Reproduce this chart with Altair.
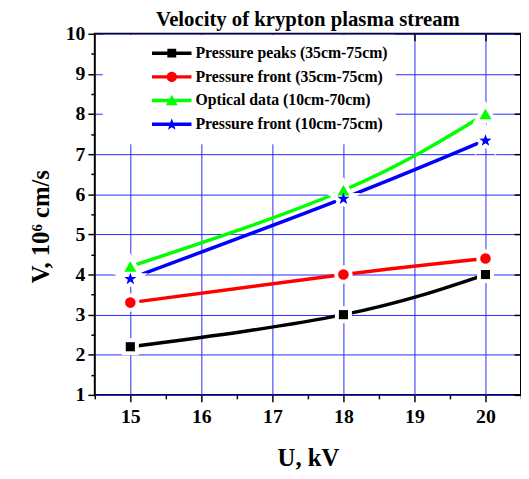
import math
import altair as alt
import pandas as pd

# ---- data ----
U_KV = [15, 18, 20]
SERIES = [
    "Pressure peaks (35cm-75cm)",
    "Pressure front (35cm-75cm)",
    "Optical data (10cm-70cm)",
    "Pressure front (10cm-75cm)",
]
PRESSURE_PEAKS = [2.2, 3.0, 4.0]
PRESSURE_FRONT_35 = [3.3, 4.0, 4.4]
OPTICAL_DATA = [4.2, 6.1, 8.0]
PRESSURE_FRONT_10 = [3.9, 5.9, 7.35]
COLORS = ["#000000", "#ff0000", "#00ff00", "#0000ff"]

X_TICKS = [15, 16, 17, 18, 19, 20]
X_MINOR = [14.5, 15.5, 16.5, 17.5, 18.5, 19.5, 20.5]
Y_TICKS = [1, 2, 3, 4, 5, 6, 7, 8, 9, 10]
Y_MINOR = [1.5, 2.5, 3.5, 4.5, 5.5, 6.5, 7.5, 8.5, 9.5]

rows = []
for name, vals in zip(SERIES, [PRESSURE_PEAKS, PRESSURE_FRONT_35, OPTICAL_DATA, PRESSURE_FRONT_10]):
    for u, v in zip(U_KV, vals):
        rows.append({"series": name, "U": u, "V": v})
df = pd.DataFrame(rows)

FONT = "Liberation Serif"


def star_path(cx, cy, ro, ri):
    pts = []
    for k in range(10):
        a = math.radians(-90 + 36 * k)
        r = ro if k % 2 == 0 else ri
        pts.append((cx + r * math.cos(a), cy + r * math.sin(a)))
    return "M" + " L".join(f"{x:.3f},{y:.3f}" for x, y in pts) + " Z"


# plot marker star (unit coords)
STAR_MARK = star_path(0, 0.08, 1.0, 0.4)

# legend symbols: line + marker, in units of half the symbol width
SYM_W = 83
U = SYM_W / 2
cx = (173 - 151.5) / U
h = 1.75 / U
x0 = (153 - 151.5) / U
bar = f"M{x0:.3f},{-h:.3f} H1 V{h:.3f} H{x0:.3f} Z "
sq = 4.5 / U
cr = 5.3 / U
tw = 6.0 / U
LEGEND_PATHS = [
    bar + f"M{cx - sq:.3f},{-sq:.3f} H{cx + sq:.3f} V{sq:.3f} H{cx - sq:.3f} Z",
    bar + f"M{cx - cr:.3f},0 A{cr:.3f},{cr:.3f} 0 1,1 {cx + cr:.3f},0 A{cr:.3f},{cr:.3f} 0 1,1 {cx - cr:.3f},0 Z",
    bar + f"M{cx:.3f},{-0.14:.3f} L{cx + tw:.3f},{0.117:.3f} L{cx - tw:.3f},{0.117:.3f} Z",
    bar + star_path(cx, 0.01, 6.5 / U, 2.6 / U),
]

x_scale = alt.Scale(domain=[14.5, 20.5], nice=False, zero=False)
y_scale = alt.Scale(domain=[1, 10], nice=False, zero=False)

x_main = alt.X(
    "U:Q", scale=x_scale,
    axis=alt.Axis(
        orient="bottom", values=X_TICKS, tickSize=7, tickWidth=1.5, tickColor="black",
        grid=True, gridColor="#2a2aff", gridWidth=1, domain=False,
        labelFont=FONT, labelFontSize=20, labelFontWeight="bold", labelColor="black",
        labelPadding=5, labelAngle=0,
        title="U, kV", titleFont=FONT, titleFontSize=25, titleFontWeight="bold",
        titleColor="black", titleY=72, titleBaseline="alphabetic", titleAlign="center",
    ),
)
y_main = alt.Y(
    "V:Q", scale=y_scale,
    axis=alt.Axis(
        orient="left", values=Y_TICKS, tickSize=7, tickWidth=1.5, tickColor="black",
        grid=True, gridColor="#2a2aff", gridWidth=1, domain=False,
        labelFont=FONT, labelFontSize=20, labelFontWeight="bold", labelColor="black",
        labelPadding=3,
        title="V, 10⁶ cm/s", titleFont=FONT, titleFontSize=25, titleFontWeight="bold",
        titleColor="black", titleAngle=270, titleX=-47, titleY=195,
        titleBaseline="alphabetic", titleAlign="center",
    ),
)

base = alt.Chart(df)

marker_specs = [("square", 85), ("circle", 115), ("triangle-up", 150), (STAR_MARK, 170)]
line_layers, halo_layers, marker_layers = [], [], []
for name, col, (shape, size) in zip(SERIES, COLORS, marker_specs):
    sub = base.transform_filter(alt.datum.series == name)
    line_layers.append(
        sub.mark_line(interpolate="natural", strokeWidth=3.5, color=col)
        .encode(x=x_main, y=y_main)
    )
    # white halo so the lines stop short of each marker
    halo_layers.append(
        sub.mark_point(filled=True, shape=shape, size=size, opacity=1,
                       fill="white", stroke="white", strokeWidth=8)
        .encode(x=x_main, y=y_main)
    )
    marker_layers.append(
        sub.mark_point(filled=True, shape=shape, size=size, opacity=1, color=col)
        .encode(x=x_main, y=y_main)
    )

legend = alt.Legend(
    title=None, orient="none", legendX=8, legendY=1, padding=7,
    fillColor="white", strokeColor="white",
    symbolSize=SYM_W * SYM_W, symbolStrokeWidth=0, symbolOpacity=1,
    clipHeight=23.3, rowPadding=0, labelOffset=4, labelLimit=400,
    labelFont=FONT, labelFontSize=16, labelFontWeight="bold", labelColor="black",
)
legend_layer = base.mark_point(filled=True, opacity=0).encode(
    x=x_main, y=y_main,
    color=alt.Color("series:N", scale=alt.Scale(domain=SERIES, range=COLORS),
                    legend=legend, sort=SERIES),
    shape=alt.Shape("series:N", scale=alt.Scale(domain=SERIES, range=LEGEND_PATHS),
                    legend=legend, sort=SERIES),
)

inner = alt.layer(*line_layers, *halo_layers, *marker_layers, legend_layer)

minor = base.mark_point(opacity=0).encode(
    x=alt.X("U:Q", scale=x_scale,
            axis=alt.Axis(orient="bottom", values=X_MINOR, tickSize=4, tickWidth=1.5,
                          tickColor="black", labels=False, grid=False, domain=False, title=None)),
    y=alt.Y("V:Q", scale=y_scale,
            axis=alt.Axis(orient="left", values=Y_MINOR, tickSize=4, tickWidth=1.5,
                          tickColor="black", labels=False, grid=False, domain=False, title=None)),
)

mirror = base.mark_point(opacity=0).encode(
    x=alt.X("U:Q", scale=x_scale,
            axis=alt.Axis(orient="top", values=X_TICKS, tickSize=7, tickWidth=1.5, offset=-7,
                          tickColor="black", labels=False, grid=False, domain=False, title=None)),
    y=alt.Y("V:Q", scale=y_scale,
            axis=alt.Axis(orient="right", values=Y_TICKS, tickSize=7, tickWidth=1.5, offset=-7,
                          tickColor="black", labels=False, grid=False, domain=False, title=None)),
)

chart = (
    alt.layer(inner, minor, mirror)
    .resolve_scale(x="independent", y="independent")
    .properties(
        width=432, height=366,
        title=alt.TitleParams("Velocity of krypton plasma stream", font=FONT, fontSize=21,
                              fontWeight="bold", color="black", anchor="middle", offset=-6,
                              frame="group"),
        autosize=alt.AutoSizeParams(type="none"),
        padding={"left": 88, "top": 23, "right": 0, "bottom": 74},
    )
    .configure_view(stroke="black", strokeWidth=2)
)

chart.save("out.html", embed_options={"renderer": "svg", "actions": False})
